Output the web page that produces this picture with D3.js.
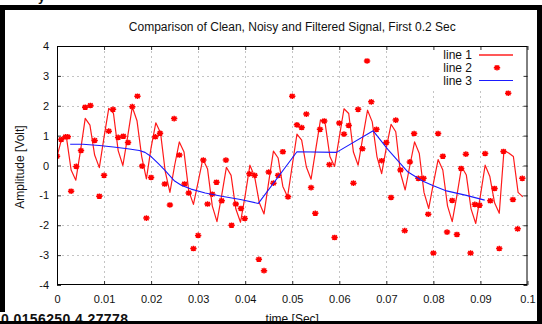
<!DOCTYPE html>
<html><head><meta charset="utf-8">
<script src="https://cdn.jsdelivr.net/npm/d3@7/dist/d3.min.js"></script>
<style>
body{margin:0;background:#fff}
svg{display:block}
text{font-family:"Liberation Sans",Arial,sans-serif;fill:#111}
</style>
</head><body>
<svg id="chart" width="542" height="324"></svg>
<script>
// ---- data (time in milliseconds, amplitude in Volt) ----
const xTicks = [0,10,20,30,40,50,60,70,80,90,100];
const xTickLabels = ["0","0.01","0.02","0.03","0.04","0.05","0.06","0.07","0.08","0.09","0.1"];
const yTicks = [-4,-3,-2,-1,0,1,2,3,4];
const yTickLabels = ["-4","-3","-2","-1","0","1","2","3","4"];
const seriesNames = ["line 1","line 2","line 3"];

const cleanTime = [0,1,2,3,4,5,6,7,8,9,10,11,12,13,14,15,16,17,18,19,20,21,22,23,24,25,26,27,28,29,30,31,32,33,34,35,36,37,38,39,40,41,42,43,44,45,46,47,48,49,50,51,52,53,54,55,56,57,58,59,60,61,62,63,64,65,66,67,68,69,70,71,72,73,74,75,76,77,78,79,80,81,82,83,84,85,86,87,88,89,90,91,92,93,94,95,96,97,98,99];
const cleanValues = [0.3,0.9,0.95,-0.15,-0.49,0.5,1.58,1.35,0.35,-0.07,
  0.95,1.91,1.75,0.5,0.0,0.95,1.96,1.5,0.3,-0.45,
  0.6,1.43,1.1,-0.2,-0.9,0.0,0.79,0.45,-0.85,-1.3,
  -0.55,0.22,-0.12,-1.35,-1.88,-1.0,-0.06,-0.33,-1.45,-1.9,
  -1.0,0.01,-0.37,-1.25,-1.62,-0.55,0.48,0.25,-0.7,-1.05,
  0.0,1.05,0.85,-0.05,-0.46,0.55,1.53,1.4,0.3,-0.03,
  0.95,1.9,1.74,0.45,0.01,0.95,1.85,1.46,0.3,-0.27,
  0.6,1.38,1.13,-0.25,-0.82,0.0,0.79,0.4,-0.9,-1.44,
  -0.6,0.2,-0.15,-1.35,-1.88,-1.0,-0.04,-0.32,-1.45,-1.94,
  -1.0,0.01,-0.37,-1.25,-1.6,0.5,0.42,0.3,-0.9,-1.05];

const noisyTime = [0,0.9,1.8,2.3,3.0,4.1,5.1,6.0,7.1,8.0,
  9.0,10.0,11.0,11.9,13.0,14.1,15.1,16.0,17.1,18.1,
  19.0,20.0,20.9,21.9,22.9,24.0,24.9,26.0,27.1,28.0,
  29.0,30.0,31.1,32.0,33.0,33.9,35.0,35.9,37.1,38.0,
  39.1,39.9,40.9,42.0,42.9,44.0,45.0,46.0,47.0,48.0,
  49.1,50.0,51.0,52.0,53.0,54.0,54.9,55.9,56.8,57.9,
  59.0,60.0,61.0,62.0,63.0,64.0,64.9,65.9,66.8,67.9,
  69.0,70.0,71.0,72.0,73.0,73.9,75.0,75.9,76.8,77.9,
  78.9,80.0,81.0,82.0,82.9,84.0,85.0,85.9,86.9,87.9,
  88.8,89.8,91.0,92.1,93.0,94.0,94.9,95.9,96.9,97.9,98.9];
const noisyValues = [0.31,0.87,0.96,0.96,-0.86,-0.03,0.5,1.95,2.01,0.84,
  -1.03,-0.33,1.15,1.88,0.94,0.98,0.77,1.97,2.32,-0.02,
  -1.76,-0.4,0.96,1.08,-0.62,-1.32,1.57,0.35,-0.62,-0.92,
  -2.78,-2.34,0.18,-1.29,-0.96,-0.56,-1.18,0.18,-2.0,-1.29,
  -1.44,-1.77,-0.28,-0.33,-3.14,-3.52,-0.22,-0.59,-0.33,0.46,
  -1.05,2.32,1.36,1.27,1.72,-0.74,-1.6,1.21,1.49,0.03,
  -2.41,1.42,1.05,1.34,-0.59,1.88,0.56,3.5,2.13,1.21,
  0.16,0.77,-1.07,1.52,-0.15,-2.18,0.12,1.07,-0.43,-0.43,
  -1.63,-2.93,1.07,0.31,-2.23,-1.17,-2.31,-0.1,0.38,-2.93,
  -1.3,-1.33,0.4,-1.18,-0.77,-2.78,0.47,2.42,-1.14,-2.12,-0.43];

const filteredTime = [2.8,5.5,9,12,15,17.5,18.7,20,21.5,23,25,26.5,28.5,31.5,35,39,42.8,51,59.4,67.2,70.4,74.6,77.8,80,82.8,87,90.9];
const filteredValues = [0.71,0.71,0.67,0.62,0.56,0.5,0.44,0.3,0.07,-0.17,-0.52,-0.67,-0.79,-0.92,-1.03,-1.14,-1.27,0.46,0.44,1.16,0.52,-0.22,-0.53,-0.68,-0.85,-1.0,-1.16];

// ---- drawing ----
const svg = d3.select("#chart");
const PL = 57, PR = 527.5, PT = 46, PB = 285;
const x = d3.scaleLinear().domain([0,100]).range([PL,PR]);
const y = d3.scaleLinear().domain([-4,4]).range([PB,PT]);

svg.append("rect").attr("width",542).attr("height",324).attr("fill","#fff");

// grid
const grid = svg.append("g").attr("stroke","#c4c4c4").attr("stroke-width",1).attr("stroke-dasharray","2,3");
grid.selectAll("line.v").data(xTicks.slice(1,-1)).join("line").attr("class","v")
  .attr("x1",d=>Math.round(x(d))+0.5).attr("x2",d=>Math.round(x(d))+0.5).attr("y1",PT).attr("y2",PB);
grid.selectAll("line.h").data(yTicks.slice(1,-1)).join("line").attr("class","h")
  .attr("y1",d=>Math.round(y(d))+0.5).attr("y2",d=>Math.round(y(d))+0.5).attr("x1",PL).attr("x2",PR);

// legend background
svg.append("rect").attr("x",432).attr("y",PT).attr("width",PR-432).attr("height",42).attr("fill","#fff");

svg.append("clipPath").attr("id","plotclip").append("rect").attr("x",PL).attr("y",PT).attr("width",PR-PL).attr("height",PB-PT);
const plot = svg.append("g").attr("clip-path","url(#plotclip)");

const lineGen = d3.line().x(d=>x(d[0])).y(d=>y(d[1]));
plot.append("path").datum(cleanTime.map((t,i)=>[t,cleanValues[i]]))
  .attr("d",lineGen).attr("fill","none").attr("stroke","#ff1a1a").attr("stroke-width",1.2).attr("stroke-linejoin","round");

const starPath = "M-3.2,0H3.2M0,-2.8V2.8M-2.3,-2.1L2.3,2.1M-2.3,2.1L2.3,-2.1";
plot.selectAll("path.star").data(noisyTime.map((t,i)=>[t,noisyValues[i]])).join("path")
  .attr("class","star").attr("d",starPath)
  .attr("transform",d=>`translate(${x(d[0])},${y(d[1])})`)
  .attr("fill","none").attr("stroke","#ff0000").attr("stroke-width",1.5);

plot.append("path").datum(filteredTime.map((t,i)=>[t,filteredValues[i]]))
  .attr("d",lineGen).attr("fill","none").attr("stroke","#1a1aff").attr("stroke-width",1.1).attr("stroke-linejoin","round");

// axes (ticks inside)
const ax = svg.append("g");
ax.append("g").attr("transform",`translate(0,${PB})`)
  .call(d3.axisBottom(x).tickValues(xTicks).tickFormat((d,i)=>xTickLabels[i]).tickSize(-4).tickPadding(10));
ax.append("g").attr("transform",`translate(${PL},0)`)
  .call(d3.axisLeft(y).tickValues(yTicks).tickFormat((d,i)=>yTickLabels[i]).tickSize(-4).tickPadding(8));
ax.append("g").attr("transform",`translate(0,${PT})`)
  .call(d3.axisTop(x).tickValues(xTicks).tickFormat("").tickSize(-4));
ax.append("g").attr("transform",`translate(${PR},0)`)
  .call(d3.axisRight(y).tickValues(yTicks).tickFormat("").tickSize(-4));
ax.selectAll(".domain").remove();
ax.selectAll(".tick line").attr("stroke","#333");
ax.selectAll(".tick text").attr("font-size",11).attr("font-family","Liberation Sans, Arial, sans-serif").attr("fill","#111");
svg.append("rect").attr("x",PL+0.5).attr("y",PT+0.5).attr("width",PR-PL-1).attr("height",PB-PT-1)
  .attr("fill","none").attr("stroke","#000").attr("stroke-width",1);

// legend
const lg = svg.append("g");
const rows = [55, 67.7, 80.5];
rows.forEach((ry,i)=>{
  lg.append("text").attr("x",472).attr("y",ry).attr("dy","0.35em").attr("text-anchor","end")
    .attr("font-size",12).text(seriesNames[i]);
});
lg.append("line").attr("x1",479).attr("x2",513).attr("y1",rows[0]).attr("y2",rows[0]).attr("stroke","#ff2020").attr("stroke-width",1.6);
lg.append("path").attr("d",starPath).attr("transform",`translate(497,${rows[1]})`).attr("fill","none").attr("stroke","#ff0000").attr("stroke-width",1.5);
lg.append("line").attr("x1",479).attr("x2",513).attr("y1",rows[2]).attr("y2",rows[2]).attr("stroke","#1a1aff").attr("stroke-width",1.1);

// titles
svg.append("text").attr("x",(PL+PR)/2).attr("y",31).attr("text-anchor","middle").attr("font-size",12)
  .text("Comparison of Clean, Noisy and Filtered Signal, First 0.2 Sec");
svg.append("text").attr("transform","translate(24,167) rotate(-90)").attr("text-anchor","middle").attr("font-size",12)
  .text("Amplitude [Volt]");
svg.append("text").attr("x",(PL+PR)/2).attr("y",322.5).attr("text-anchor","middle").attr("font-size",12)
  .text("time [Sec]");
svg.append("text").attr("x",1).attr("y",324).attr("font-size",14).attr("font-weight","bold")
  .attr("textLength",127).attr("lengthAdjust","spacing").text("0.0156250   4.27778");
svg.append("text").attr("x",38).attr("y",0.5).attr("font-size",13).attr("font-weight","bold").text("y");

// black window frame
const frame = svg.append("g").attr("fill","#000");
frame.append("rect").attr("x",0).attr("y",5).attr("width",542).attr("height",5);
frame.append("rect").attr("x",0).attr("y",5).attr("width",5).attr("height",307);
frame.append("rect").attr("x",537).attr("y",5).attr("width",5).attr("height",319);
frame.append("rect").attr("x",0).attr("y",321).attr("width",542).attr("height",3);
</script>
</body></html>
